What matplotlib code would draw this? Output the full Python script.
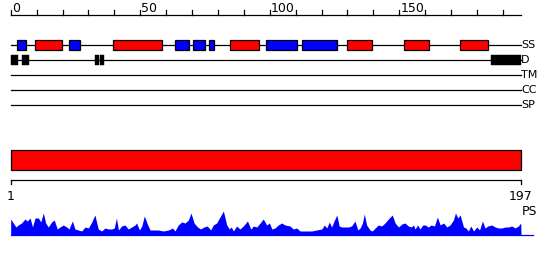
import matplotlib
matplotlib.use("Agg")
import matplotlib.pyplot as plt
from matplotlib.patches import Rectangle

# Protein feature map data (residue coordinates)
seq_len = 197
ruler_ticks = list(range(0, seq_len + 1, 10))
ruler_labels = [0, 50, 100, 150]

track_names = ["SS", "D", "TM", "CC", "SP"]

# secondary structure: strands (blue) and helices (red)
ss_strands = [(2.5, 5.8), (22.6, 26.6), (63.6, 68.7), (70.5, 74.9), (76.6, 78.6),
              (98.6, 110.7), (112.6, 125.9)]
ss_helices = [(9.5, 19.7), (39.6, 58.5), (84.8, 95.8), (129.7, 139.6),
              (151.7, 161.6), (173.6, 184.4)]
# disorder regions
disorder = [(0, 2.7), (4.5, 6.9), (32.5, 34.1), (34.5, 36.0), (185.4, 197)]

# domain bar
domain = (0, 197)

# PS profile (residue position, value)
ps_pos = [0, 1.0, 2.0, 2.9, 4.2, 5.5, 6.4, 7.5, 8.4, 9.4, 10.7, 11.6, 12.6, 13.5,
          14.5, 15.8, 16.8, 18.0, 19.0, 20.3, 21.6, 22.5, 23.8, 24.8, 26.1, 27.4,
          28.7, 30.0, 31.3, 32.5, 33.8, 35.1, 36.4, 37.7, 39.0, 40.0, 40.8, 41.6,
          42.8, 44.1, 45.4, 46.7, 48.0, 48.6, 49.7, 50.6, 51.6, 52.9, 53.8, 55.1,
          57.0, 58.9, 60.9, 62.5, 63.4, 64.7, 66.0, 67.3, 68.6, 69.6, 70.8, 72.1,
          73.3, 74.6, 75.9, 77.2, 78.2, 79.5, 80.8, 82.1, 83.4, 84.4, 85.1, 86.0,
          87.2, 88.5, 89.8, 91.4, 92.7, 93.7, 95.0, 96.3, 97.5, 98.8, 99.9, 100.8,
          102.0, 103.3, 104.6, 105.9, 107.8, 109.1, 110.4, 111.7, 114.3, 116.2,
          118.1, 120.1, 121.1, 122.0, 123.0, 123.9, 125.0, 125.9, 126.8, 127.8,
          129.1, 130.4, 131.6, 132.9, 134.0, 134.9, 135.8, 136.5, 137.4, 138.7,
          139.6, 140.7, 141.9, 143.2, 144.5, 145.8, 147.3, 148.4, 149.7, 151.0,
          152.2, 153.5, 154.6, 155.5, 156.1, 157.1, 158.0, 159.1, 160.0, 161.2,
          162.3, 163.6, 164.7, 165.8, 167.1, 168.4, 169.6, 170.9, 171.7, 172.6,
          173.5, 174.8, 175.7, 176.7, 177.6, 178.7, 179.9, 181.0, 182.1, 183.1,
          184.2, 185.7, 187.0, 188.3, 189.6, 190.9, 192.1, 193.4, 194.7, 196.0,
          196.9, 197.0]
ps_val = [16, 12, 8, 10, 12, 16, 14, 17, 8, 17, 17, 13, 22, 12,
          8, 13, 15, 6, 8, 10, 8, 6, 14, 6, 5, 4,
          8, 7, 13, 20, 6, 4, 7, 6, 6, 7, 17, 5,
          9, 10, 6, 8, 10, 12, 5, 9, 19, 10, 5, 5,
          5, 4, 5, 7, 4, 10, 13, 12, 15, 22, 12, 8,
          6, 8, 9, 5, 10, 12, 18, 24, 10, 6, 8, 4,
          9, 6, 9, 14, 6, 9, 8, 12, 16, 10, 12, 6,
          7, 10, 12, 10, 9, 6, 7, 4, 4, 4,
          5, 6, 10, 7, 13, 8, 15, 20, 9, 8,
          8, 8, 9, 14, 5, 7, 12, 21, 10, 5,
          4, 7, 10, 9, 12, 16, 20, 12, 8, 11,
          12, 9, 8, 10, 6, 10, 6, 10, 10, 8,
          10, 9, 18, 10, 12, 8, 10, 15, 22, 17,
          20, 8, 7, 4, 9, 4, 8, 5, 14, 7,
          9, 10, 8, 7, 7, 8, 8, 9, 7, 9,
          12, 0]

# layout (pixel rows, y axis points down)
W, H = 550, 260
x_left, x_right = 10.7, 521.0
scale = (x_right - x_left) / seq_len
row_y = {"SS": 45, "D": 60, "TM": 75, "CC": 90, "SP": 105}
ruler_y = 15
bar_top, bar_h = 150.3, 20
axis_y = 180.3
ps_base = 235
lw = 0.9
blue, red = "#0000ff", "#ff0000"

fig = plt.figure(figsize=(W / 100, H / 100), dpi=100)
ax = fig.add_axes([0, 0, 1, 1])
ax.set_xlim(-x_left / scale, (W - x_left) / scale)
ax.set_ylim(H, 0)
ax.axis("off")

# ruler
ax.plot([0, seq_len], [ruler_y, ruler_y], color="black", lw=lw)
for t in ruler_ticks:
    ax.plot([t, t], [ruler_y, ruler_y - 5], color="black", lw=lw)
for t in ruler_labels:
    ax.text(t + 0.4, ruler_y - 3.5, str(t), ha="left", va="baseline", fontsize=9)

# track lines and labels
for name in track_names:
    y = row_y[name]
    ax.plot([0, seq_len], [y, y], color="black", lw=lw, zorder=1)
    ax.text(seq_len, y, name, ha="left", va="center", fontsize=8)

for s, e in ss_strands:
    ax.add_patch(Rectangle((s, row_y["SS"] - 5), e - s, 10, facecolor=blue,
                           edgecolor="black", lw=lw, zorder=2))
for s, e in ss_helices:
    ax.add_patch(Rectangle((s, row_y["SS"] - 5), e - s, 10, facecolor=red,
                           edgecolor="black", lw=lw, zorder=2))
for s, e in disorder:
    ax.add_patch(Rectangle((s, row_y["D"] - 5.3), e - s, 10.6, facecolor="black",
                           edgecolor="black", lw=0.3, zorder=2))

# domain bar
ax.add_patch(Rectangle((domain[0], bar_top), domain[1] - domain[0], bar_h,
                       facecolor=red, edgecolor="black", lw=lw))

# bottom axis
ax.plot([1 - 1, seq_len], [axis_y, axis_y], color="black", lw=lw)
for t in [0, seq_len]:
    ax.plot([t, t], [axis_y, axis_y + 4], color="black", lw=lw)
ax.text(0, 200, "1", ha="center", va="baseline", fontsize=9)
ax.text(seq_len, 200, str(seq_len), ha="center", va="baseline", fontsize=9)

# PS profile
ps_y = [ps_base - v for v in ps_val]
ax.fill_between(ps_pos, ps_y, ps_base, color=blue, lw=0)
ax.plot([0, seq_len + 4.5], [ps_base, ps_base], color=blue, lw=lw)
ax.text(seq_len + 0.3, 215, "PS", ha="left", va="baseline", fontsize=9)

fig.savefig("out.png", dpi=100)
